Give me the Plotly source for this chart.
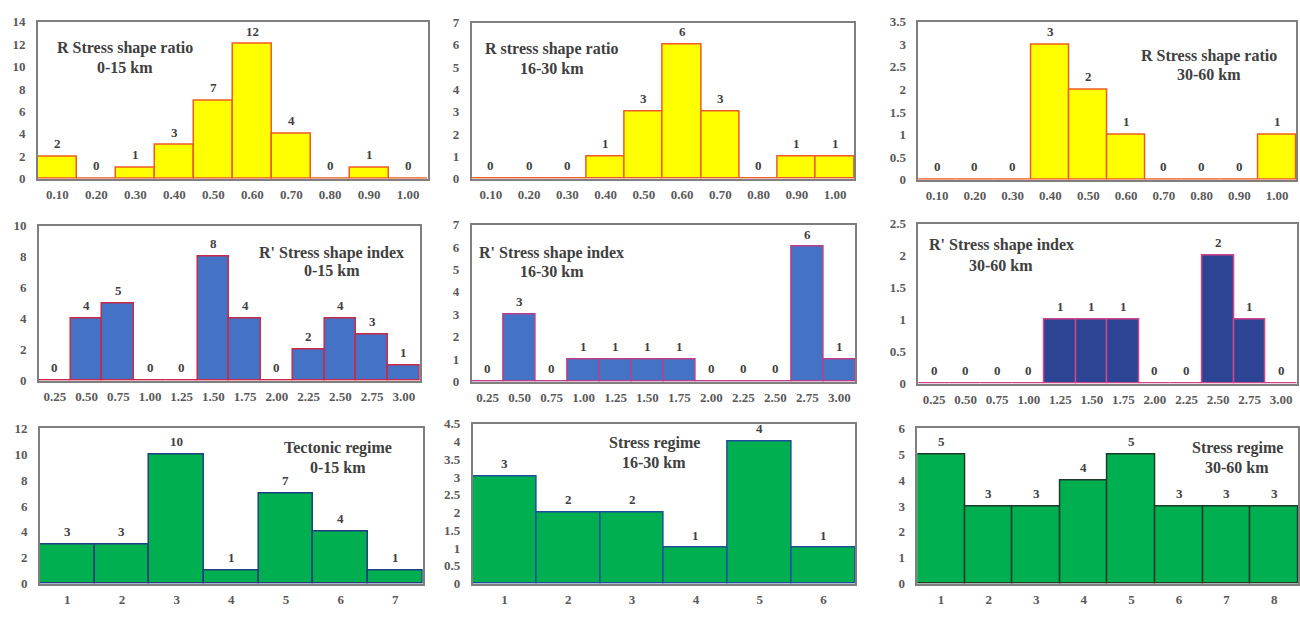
import plotly.graph_objects as go

# ---------------- data ----------------
r_cats = ["0.10", "0.20", "0.30", "0.40", "0.50", "0.60", "0.70", "0.80", "0.90", "1.00"]
r_0_15 = [2, 0, 1, 3, 7, 12, 4, 0, 1, 0]
r_16_30 = [0, 0, 0, 1, 3, 6, 3, 0, 1, 1]
r_30_60 = [0, 0, 0, 3, 2, 1, 0, 0, 0, 1]

rp_cats = ["0.25", "0.50", "0.75", "1.00", "1.25", "1.50", "1.75", "2.00", "2.25", "2.50", "2.75", "3.00"]
rp_0_15 = [0, 4, 5, 0, 0, 8, 4, 0, 2, 4, 3, 1]
rp_16_30 = [0, 3, 0, 1, 1, 1, 1, 0, 0, 0, 6, 1]
rp_30_60 = [0, 0, 0, 0, 1, 1, 1, 0, 0, 2, 1, 0]

tect_cats = ["1", "2", "3", "4", "5", "6", "7"]
tect_0_15 = [3, 3, 10, 1, 7, 4, 1]
stress16_cats = ["1", "2", "3", "4", "5", "6"]
stress_16_30 = [3, 2, 2, 1, 4, 1]
stress30_cats = ["1", "2", "3", "4", "5", "6", "7", "8"]
stress_30_60 = [5, 3, 3, 4, 5, 3, 3, 3]

titles = [
    ("R Stress shape ratio", "0-15 km"),
    ("R stress shape ratio", "16-30 km"),
    ("R Stress shape ratio", "30-60 km"),
    ("R' Stress shape index", "0-15 km"),
    ("R' Stress shape index", "16-30 km"),
    ("R' Stress shape index", "30-60 km"),
    ("Tectonic regime", "0-15 km"),
    ("Stress regime", "16-30 km"),
    ("Stress regime", "30-60 km"),
]

# ---------------- styling / layout (pixels) ----------------
W, H = 1300, 617
panels = [
    # cats, vals, ymax, dtick, fill, border, frame px (x0,x1,y0,y1), title center x, title y1, y2
    (r_cats, r_0_15, 14, 2, "#FFFF00", "#EE5A24", (38, 428, 15, 176), 125, 42, 62),
    (r_cats, r_16_30, 7, 1, "#FFFF00", "#EE5A24", (472, 855, 16, 176), 552, 43, 63),
    (r_cats, r_30_60, 3.5, 0.5, "#FFFF00", "#EE5A24", (919, 1297, 15, 177), 1210, 50, 69),
    (rp_cats, rp_0_15, 10, 2, "#4472C4", "#C8284A", (39, 420, 224, 383), 332, 252, 270),
    (rp_cats, rp_16_30, 7, 1, "#4472C4", "#B8408A", (472, 856, 223, 384), 552, 252, 271),
    (rp_cats, rp_30_60, 2.5, 0.5, "#2D4394", "#D0448A", (919, 1298, 222, 386), 1002, 244, 265),
    (tect_cats, tect_0_15, 12, 2, "#00B050", "#1F3F7F", (40, 423, 432, 591), 338, 452, 472),
    (stress16_cats, stress_16_30, 4.5, 0.5, "#00B050", "#1F4E99", (473, 856, 427, 591), 655, 447, 467),
    (stress30_cats, stress_30_60, 6, 1, "#00B050", "#1E3A2A", (918, 1299, 432, 591), 1238, 452, 472),
]

FONT = "Liberation Serif"
tick_font = dict(family=FONT, size=13, color="#595959", weight="bold")
val_font = dict(family=FONT, size=13, color="#404040", weight="bold")
ann_font = dict(family=FONT, size=16, color="#404040", weight="bold")
frame_col = "#7F7F7F"

fig = go.Figure()
layout = dict(
    width=W, height=H, autosize=False,
    margin=dict(l=0, r=0, t=0, b=0),
    paper_bgcolor="white", plot_bgcolor="white",
    showlegend=False, bargap=0,
    annotations=[],
)

for i, (cats, vals, ymax, dt, fill, border, (x0, x1, y0, y1), tx, ty1, ty2) in enumerate(panels):
    n = i + 1
    xa = "x" if n == 1 else f"x{n}"
    ya = "y" if n == 1 else f"y{n}"
    fig.add_trace(go.Bar(
        x=cats, y=vals, xaxis=xa, yaxis=ya,
        marker=dict(color=fill, line=dict(color=border, width=1.5)),
        width=1.0, hoverinfo="x+y",
    ))
    xkey = "xaxis" if n == 1 else f"xaxis{n}"
    ykey = "yaxis" if n == 1 else f"yaxis{n}"
    layout[xkey] = dict(
        domain=[x0 / W, x1 / W], anchor=ya, type="category",
        categoryorder="array", categoryarray=cats,
        showline=True, mirror=True, linecolor=frame_col, linewidth=1.5,
        showgrid=False, zeroline=False, ticks="", tickfont=tick_font,
        ticklabelstandoff=3, fixedrange=True,
    )
    layout[ykey] = dict(
        domain=[1 - y1 / H, 1 - y0 / H], anchor=xa,
        range=[0, ymax], dtick=dt, tick0=0,
        showline=True, mirror=True, linecolor=frame_col, linewidth=1.5,
        showgrid=False, zeroline=False, ticks="", tickfont=tick_font,
        ticklabelstandoff=8, fixedrange=True,
    )
    # value labels above bars (category index on the category axis)
    for j, v in enumerate(vals):
        layout["annotations"].append(dict(
            text=str(v), x=j, y=v, xref=xa, yref=ya,
            xanchor="center", yanchor="middle", yshift=13,
            showarrow=False, font=val_font,
        ))
    for txt, ty in ((titles[i][0], ty1), (titles[i][1], ty2)):
        layout["annotations"].append(dict(
            text=txt, x=tx / W, y=1 - ty / H, xref="paper", yref="paper",
            xanchor="center", yanchor="middle", showarrow=False, font=ann_font,
        ))

fig.update_layout(**layout)
fig.write_html("out.html")
